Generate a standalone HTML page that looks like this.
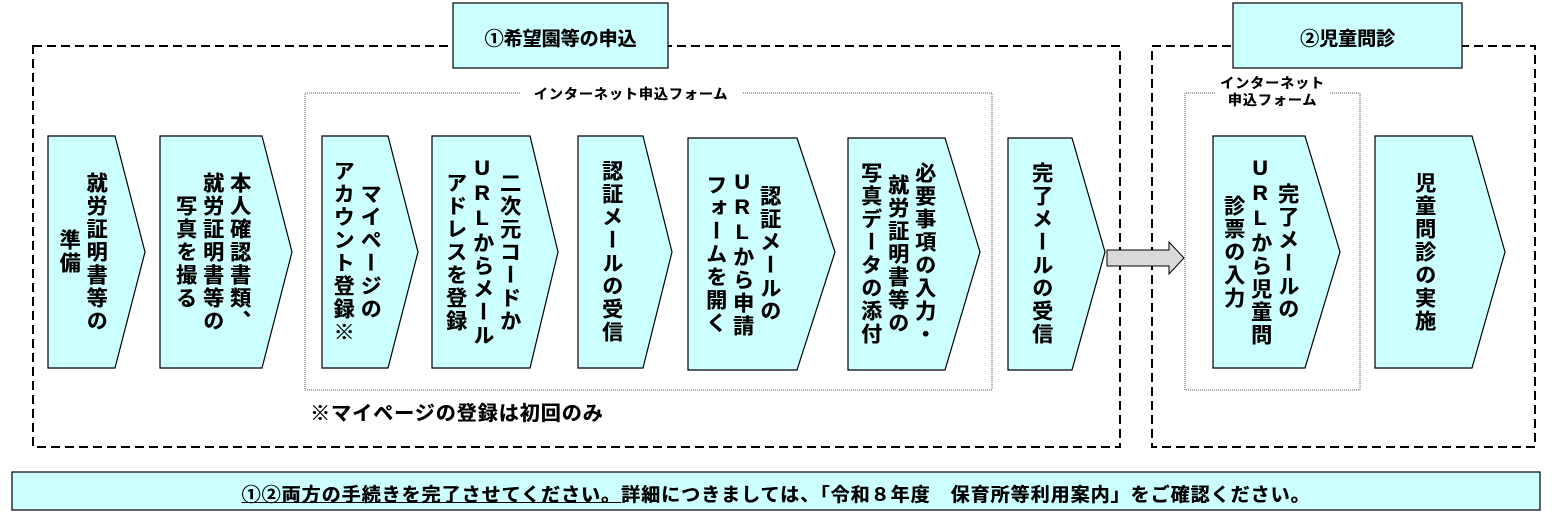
<!DOCTYPE html>
<html><head><meta charset="utf-8"><style>
body{margin:0;width:1554px;height:519px;background:#fff;position:relative;overflow:hidden;font-family:"Liberation Sans","Noto Sans CJK JP",sans-serif;font-weight:bold;color:#000}
.v{position:absolute;writing-mode:vertical-rl;text-orientation:upright;font-size:21px;line-height:27px;letter-spacing:2px;text-align:center;height:220px;transform:translate(-50%,-50%);white-space:nowrap;text-shadow:0.4px 0 0 #000}
.t{position:absolute;font-size:18px;text-align:center;white-space:nowrap;text-shadow:0.4px 0 0 #000}
</style></head><body>
<svg width="1554" height="519" style="position:absolute;left:0;top:0">
<g fill="none" stroke="#000" stroke-width="2" stroke-dasharray="9,5">
<rect x="33" y="46" width="1087" height="401"/>
<rect x="1152" y="46" width="383" height="401"/>
</g>
<g fill="none" stroke="#555" stroke-width="1" stroke-dasharray="1,1">
<polyline points="520,93 305,93 305,390 992,390 992,93 742,93"/>
<polyline points="1215,93 1185,93 1185,390 1360,390 1360,93 1330,93"/>
</g>
<g fill="#ccffff" stroke="#000" stroke-width="1.2">
<rect x="453" y="3" width="215" height="65"/>
<rect x="1233" y="3" width="229" height="65"/>
<polygon points="48,136 115,136 145,252 115,368 48,368"/>
<polygon points="160,136 262,136 292,252 262,368 160,368"/>
<polygon points="322,136 388,136 418,252 388,368 322,368"/>
<polygon points="432,136 530,136 558,252 530,368 432,368"/>
<polygon points="578,136 643,136 672,252 643,368 578,368"/>
<polygon points="688,138 797,138 835,252 797,370 688,370"/>
<polygon points="848,138 945,138 980,252 945,370 848,370"/>
<polygon points="1008,138 1072,138 1105,252 1072,370 1008,370"/>
<polygon points="1213,136 1305,136 1340,252 1305,368 1213,368"/>
<polygon points="1375,136 1472,136 1505,252 1472,368 1375,368"/>
<rect x="12" y="472" width="1528" height="38"/>
</g>
<polygon points="1107,250 1169,250 1169,242 1184,258 1169,274 1169,266 1107,266" fill="#d9d9d9" stroke="#000" stroke-width="1"/>
</svg>
<div class="t" style="left:453px;top:24px;width:215px;font-size:19px">①希望園等の申込</div>
<div class="t" style="left:1233px;top:24px;width:229px;font-size:19px">②児童問診</div>
<div class="t" style="left:520px;top:84px;width:222px;font-size:14px;letter-spacing:1px">インターネット申込フォーム</div>
<div class="t" style="left:1195px;top:75px;width:155px;font-size:14px;line-height:17px;letter-spacing:1px">インターネット<br>申込フォーム</div>
<div class="t" style="left:310px;top:397px;font-size:20px;letter-spacing:1px">※マイページの登録は初回のみ</div>
<div class="t" style="left:12px;top:480px;width:1528px;font-size:19px;letter-spacing:1px"><u>①②両方の手続きを完了させてください。</u>詳細につきましては、「令和８年度　保育所等利用案内」をご確認ください。</div>

<div class="v" style="left:82px;top:252px">就労証明書等の<br>準備</div>
<div class="v" style="left:212px;top:252px">本人確認書類、<br>就労証明書等の<br>写真を撮る</div>
<div class="v" style="left:356px;top:252px">マイページの<br>アカウント登録※</div>
<div class="v" style="left:482px;top:252px">二次元コードか<br>URLからメール<br>アドレスを登録</div>
<div class="v" style="left:611px;top:252px">認証メールの受信</div>
<div class="v" style="left:742px;top:254px">認証メールの<br>URLから申請<br>フォームを開く</div>
<div class="v" style="left:897px;top:254px">必要事項の入力・<br>就労証明書等の<br>写真データの添付</div>
<div class="v" style="left:1041px;top:254px">完了メールの受信</div>
<div class="v" style="left:1260px;top:252px">完了メールの<br>URLから児童問<br>診票の入力</div>
<div class="v" style="left:1424px;top:252px">児童問診の実施</div>
</body></html>
